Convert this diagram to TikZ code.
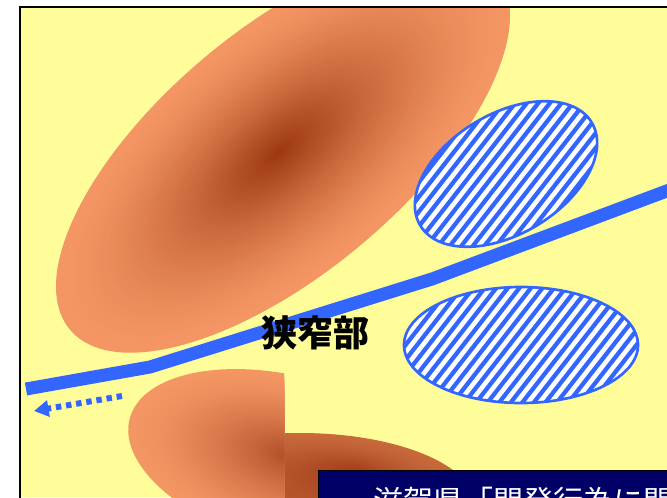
\documentclass[tikz,border=0pt]{standalone}
\usepackage{fontspec}
\newfontfamily\jp{Noto Sans CJK JP}
\usetikzlibrary{arrows.meta}
\definecolor{bgyellow}{RGB}{255,253,153}
\definecolor{ablue}{RGB}{51,102,255}
\definecolor{orout}{RGB}{244,150,100}
\definecolor{orin}{RGB}{155,55,15}
\definecolor{orintwo}{RGB}{175,75,38}
\definecolor{dithout}{RGB}{200,105,60}
\definecolor{dithin}{RGB}{165,65,28}
\definecolor{navybox}{RGB}{0,0,102}
% gradient ellipse: cx cy fx fy a b rot outer inner
\newcommand\GradEll[9]{%
  \foreach \gi in {0,...,59}{%
    \pgfmathsetmacro\gt{\gi/60}%
    \pgfmathsetmacro\gs{1-\gt}%
    \pgfmathsetmacro\gx{#1+(#3-#1)*\gt}%
    \pgfmathsetmacro\gy{#2+(#4-#2)*\gt}%
    \pgfmathsetmacro\gp{100*\gt*sqrt(\gt)}%
    \pgfmathsetmacro\ga{#5*\gs}%
    \pgfmathsetmacro\gb{#6*\gs}%
    \begin{scope}[shift={(\gx,\gy)},rotate=#7]
      \fill[#9!\gp!#8] (0,0) ellipse [x radius=\ga, y radius=\gb];
    \end{scope}}}
\newcommand\HatchEll[5]{% cx cy a b rot
  \begin{scope}[shift={(#1,#2)},rotate=#5]
    \fill[white] (0,0) ellipse [x radius=#3, y radius=#4];
    \begin{scope}
      \clip (0,0) ellipse [x radius=#3, y radius=#4];
      \begin{scope}[rotate=52-#5]
        \foreach \k in {-16,...,16}
          \draw[stripe] (-160,\k*9.1) -- (160,\k*9.1);
      \end{scope}
    \end{scope}
    \draw[hatchrim] (0,0) ellipse [x radius=#3, y radius=#4];
  \end{scope}}
\tikzset{
  stripe/.style={ablue, line width=3.2pt},
  hatchrim/.style={draw=ablue, line width=2pt},
  mainline/.style={ablue, line width=9.75pt, line join=round},
  flowarrow/.style={ablue, line width=4.5pt, dash pattern=on 4.1pt off 3.6pt,
    -{Triangle[length=11pt,width=12pt]}},
}
\begin{document}
\begin{tikzpicture}[x=0.75pt,y=-0.75pt]
\useasboundingbox (0,0) rectangle (667,497);
\clip (0,0) rectangle (667,497);
\fill[white] (0,0) rectangle (667,497);
\fill[bgyellow] (20,6) rectangle (667,497);

\begin{scope}
  \clip (21,8) rectangle (667,497);
  % large gradient ellipse
  \GradEll{283}{151}{278}{153}{278}{122}{40}{orout}{orin}
  % dithered dark blob
  \begin{scope}
    \clip (284,8) rectangle (667,497);
    \GradEll{300}{505}{355}{468}{175}{72}{0}{dithout}{dithin}
  \end{scope}
  % lower-left cut ellipse
  \begin{scope}
    \clip (21,8) rectangle (284,497);
    \GradEll{292}{462}{292}{456}{168}{85}{-15}{orout}{orintwo}
  \end{scope}
  % hatched ellipses
  \HatchEll{506}{174}{100}{60}{31}
  \HatchEll{521}{345}{117}{58}{0}
  % main blue line
  \coordinate (l0) at (26,389);
  \coordinate (l1) at (150,367);
  \coordinate (l2) at (432,279);
  \coordinate (l3) at (680,186);
  \draw[mainline] (l0) -- (l1) -- (l2) -- (l3);
  % dotted arrow
  \coordinate (a0) at (122,396);
  \coordinate (a1) at (34,411);
  \draw[flowarrow] (a0) -- (a1);
  % label
  \node[inner sep=0, font=\jp\bfseries\fontsize{27}{27}\selectfont] (narrow) at (315,333) {狭窄部};
  % navy box
  \draw[fill=navybox, draw=black, line width=0.75pt] (318,470) rectangle (690,520);
  \node[anchor=base west, inner sep=0, text=white, font=\jp\fontsize{22.5}{22.5}\selectfont] (title) at (373,512) {滋賀県「開発行為に関する技術基準」};
\end{scope}
% frame
\draw[black, line width=1.5pt] (20,520) -- (20,7) -- (690,7);
\end{tikzpicture}
\end{document}
